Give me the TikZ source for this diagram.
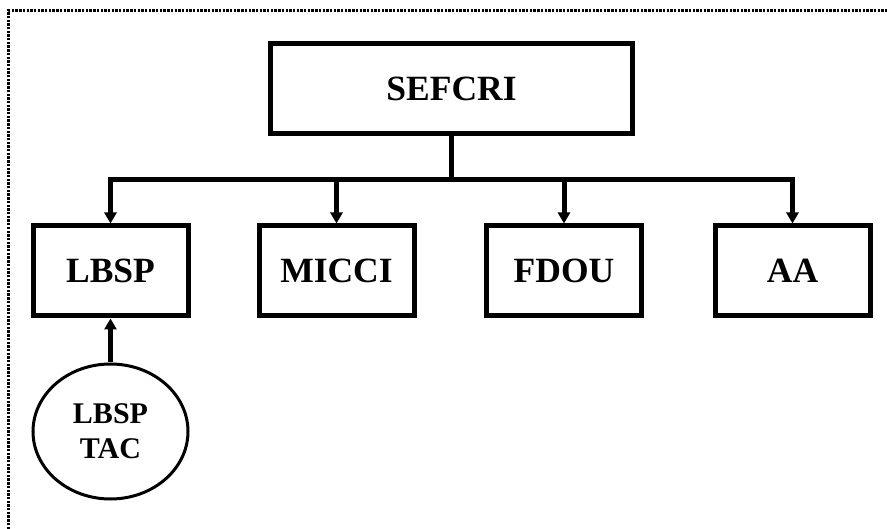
\documentclass[tikz,border=0pt]{standalone}
\usepackage{fontspec}
\setmainfont{Liberation Serif}
\usetikzlibrary{arrows.meta,shapes.geometric}
\begin{document}
\begin{tikzpicture}[x=1pt,y=-1pt,
  orgbox/.style={draw,line width=5pt,rectangle,minimum width=155pt,minimum height=90pt,inner sep=0pt,
    font=\fontsize{35.5}{40}\selectfont\bfseries},
  link/.style={line width=5pt},
  arr/.style={line width=5pt,-{Triangle[length=11pt,width=12pt]}},
  border/.style={line width=3.5pt,dash pattern=on 2.4pt off 1.3pt}]
\useasboundingbox (0,0) rectangle (887,529);
\clip (0,0) rectangle (887,529);
\draw[border] (8.5,540) -- (8.5,10.5) -- (900,10.5);
\node[orgbox,minimum width=362pt,minimum height=89.5pt] (top) at (451.5,88.75) {SEFCRI};
\node[orgbox] (lbsp) at (110.5,271) {LBSP};
\node[orgbox] (micci) at (336.5,271) {MICCI};
\node[orgbox] (fdou) at (564,271) {FDOU};
\node[orgbox] (aa) at (792.5,271) {AA};
\node[draw,ellipse,line width=3pt,minimum width=155pt,minimum height=135pt,inner sep=0pt,align=center,
  font=\fontsize{30}{35}\selectfont\bfseries] (tac) at (110.5,431.5) {LBSP\\TAC};
\coordinate (bus) at (451.5,180);
\draw[link] (top.south) -- (bus);
\draw[arr] (bus) -| (lbsp.north);
\draw[arr] (bus) -| (aa.north);
\draw[arr] (bus -| micci.north) -- (micci.north);
\draw[arr] (bus -| fdou.north) -- (fdou.north);
\draw[arr] (tac.north) -- (lbsp.south);
\end{tikzpicture}
\end{document}
